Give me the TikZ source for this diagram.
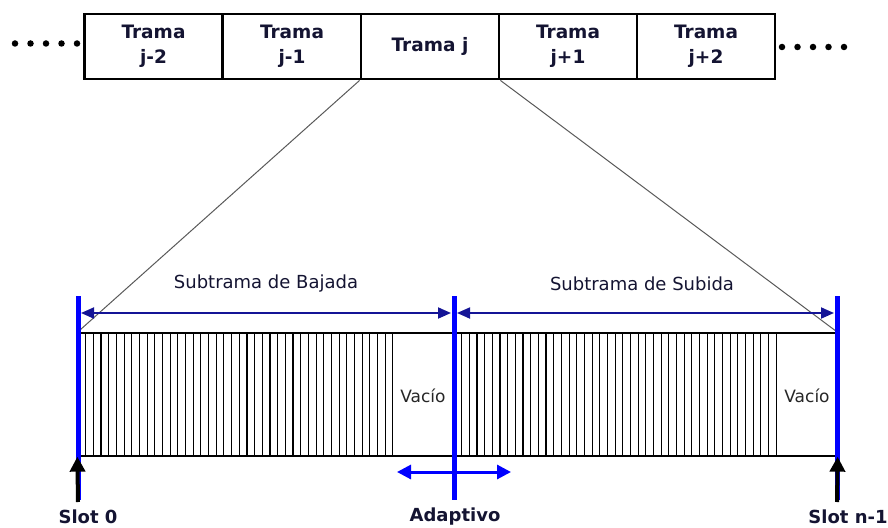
\documentclass[tikz,border=0pt]{standalone}
\usepackage{fontspec}
\setmainfont{DejaVu Sans}
\usetikzlibrary{arrows.meta}
\definecolor{navy}{RGB}{20,20,150}
\definecolor{txt}{RGB}{20,20,50}
\definecolor{pureblue}{RGB}{0,0,255}
\begin{document}
\begin{tikzpicture}[x=1pt,y=-1pt,
  trama/.style={draw,line width=2.8pt,minimum width=138pt,minimum height=65pt,inner sep=0pt,align=center,
    font=\fontsize{18.5}{25}\selectfont\bfseries,text=txt},
  dotmark/.style={fill=black,circle,inner sep=0pt,minimum size=6.5pt},
  bluebar/.style={pureblue,line width=5pt},
  hatch/.style={black,line width=1.1pt},
  dimarrow/.style={navy,line width=1.8pt,{Triangle[length=13pt,width=11pt]}-{Triangle[length=13pt,width=11pt]}},
  adaptarrow/.style={pureblue,line width=3pt,{Triangle[length=14pt,width=14pt]}-{Triangle[length=14pt,width=14pt]}},
  slotarrow/.style={black,line width=4pt,-{Triangle[length=15pt,width=15pt]}},
  sublabel/.style={font=\fontsize{18}{22}\selectfont,text=txt},
  vaclabel/.style={font=\fontsize{17}{20}\selectfont,text=black!85},
  slotlabel/.style={font=\fontsize{18}{21}\selectfont\bfseries,text=txt},
  zoomline/.style={gray!70!black,line width=1pt}]
\useasboundingbox (0,0) rectangle (888,527);
% top frames
\node[trama] (t1) at (153.5,46.5) {Trama\\j-2};
\node[trama] (t2) at (292,46.5) {Trama\\j-1};
\node[trama] (t3) at (430,46.5) {Trama j};
\node[trama] (t4) at (568,46.5) {Trama\\j+1};
\node[trama] (t5) at (706,46.5) {Trama\\j+2};
% dots
\foreach \i/\x in {1/15,2/30.5,3/46,4/61.5,5/77}
  \node[dotmark] (dl\i) at (\x,43.5) {};
\foreach \i/\x in {1/782,2/797.5,3/813,4/828.5,5/844}
  \node[dotmark] (dr\i) at (\x,47) {};
% bottom frame
\node[draw,line width=1.3pt,minimum width=759pt,minimum height=123pt,inner sep=0pt] (sub) at (457.5,394.5) {};
% hatching
\foreach \k in {1,...,41}
  \draw[hatch] ({78+7.68*\k},333) -- ({78+7.68*\k},456);
\foreach \k in {1,...,42}
  \draw[hatch] ({454+7.67*\k},333) -- ({454+7.67*\k},456);
% zoom lines
\draw[zoomline] (t3.south west) -- (sub.north west);
\draw[zoomline] (t3.south east) -- (sub.north east);
% Vacio labels
\node[vaclabel] (v1) at (423,396) {Vacío};
\node[vaclabel] (v2) at (807,396) {Vacío};
% blue bars
\coordinate (b0t) at (78,296); \coordinate (b0b) at (78,500);
\coordinate (bat) at (454,296); \coordinate (bab) at (454,500);
\coordinate (bnt) at (837,296); \coordinate (bnb) at (837,500);
\draw[bluebar] (b0t) -- (b0b);
\draw[bluebar] (bat) -- (bab);
\draw[bluebar] (bnt) -- (bnb);
% dimension arrows
\coordinate (d1a) at (81,313); \coordinate (d1b) at (451,313);
\coordinate (d2a) at (457,313); \coordinate (d2b) at (834,313);
\draw[dimarrow] (d1a) -- (d1b);
\draw[dimarrow] (d2a) -- (d2b);
\node[sublabel] (lb) at (266,284) {Subtrama de Bajada};
\node[sublabel] (ls) at (642,284) {Subtrama de Subida};
% adaptive arrow
\coordinate (aa) at (397,472); \coordinate (ab) at (511,472);
\draw[adaptarrow] (aa) -- (ab);
% slot arrows
\coordinate (s0) at (78,502); \coordinate (sn) at (837,502);
\draw[slotarrow] (s0) -- (sub.south west);
\draw[slotarrow] (sn) -- (sub.south east);
% bottom labels
\node[slotlabel] (l0) at (88,517) {Slot 0};
\node[slotlabel] (la) at (455,517) {Adaptivo};
\node[slotlabel] (ln) at (848,517) {Slot n-1};
\end{tikzpicture}
\end{document}
